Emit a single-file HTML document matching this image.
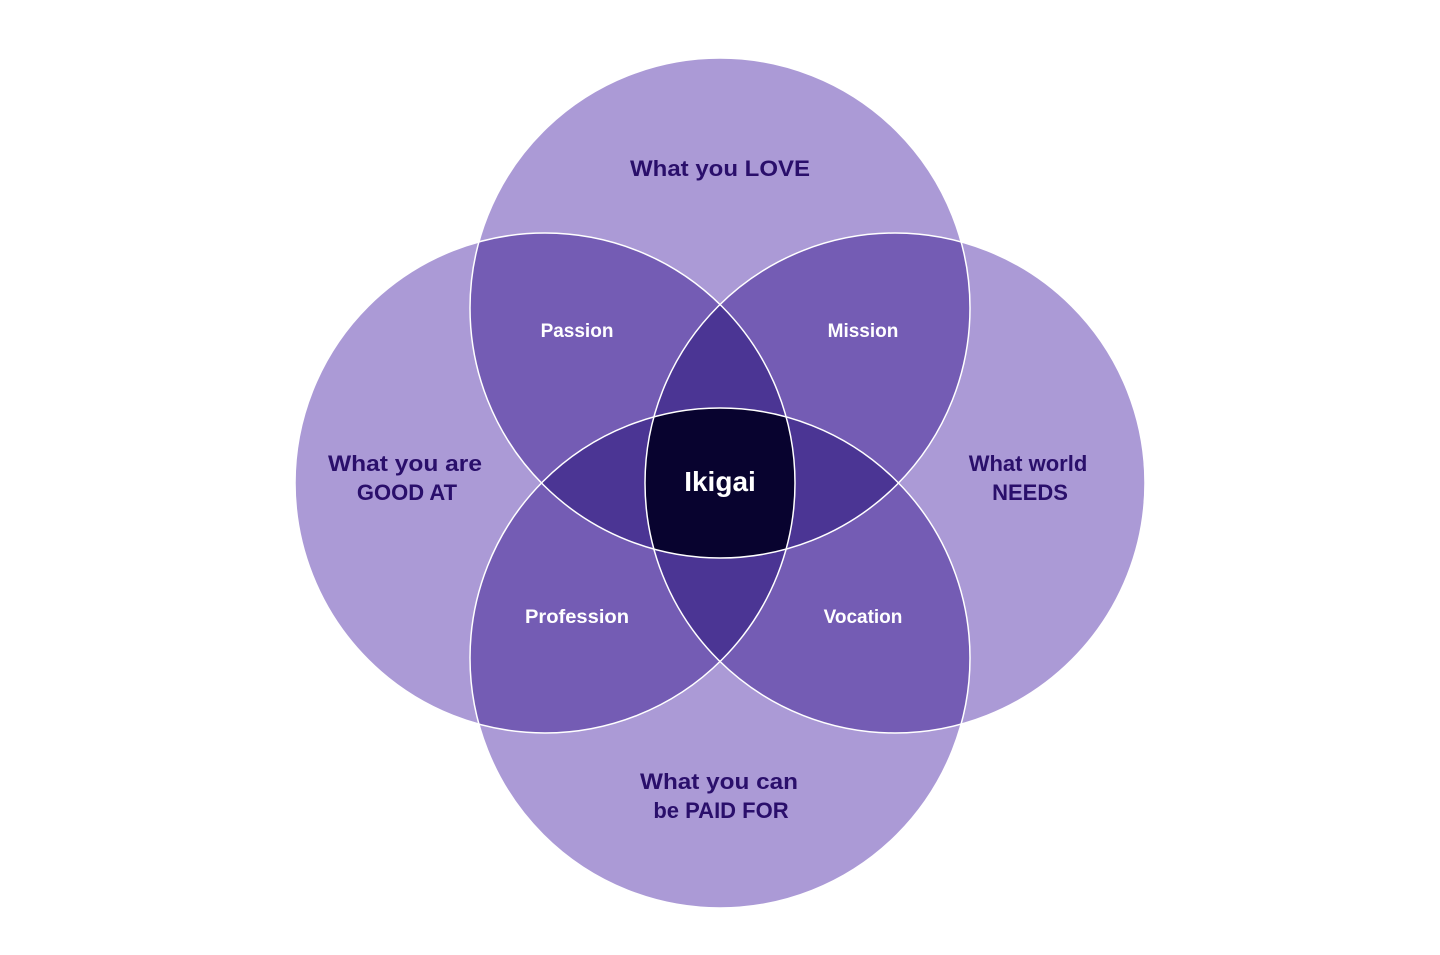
<!DOCTYPE html>
<html><head><meta charset="utf-8"><style>
html,body{margin:0;padding:0;background:#fff;}
svg{display:block}
text{font-family:"Liberation Sans",Arial,sans-serif;font-weight:bold;text-anchor:middle}
</style></head><body>
<svg width="1440" height="955" viewBox="0 0 1440 955" xmlns="http://www.w3.org/2000/svg">
<defs>
<clipPath id="cT"><circle cx="720" cy="308" r="250"/></clipPath>
<clipPath id="cB"><circle cx="720" cy="658" r="250"/></clipPath>
<clipPath id="cL"><circle cx="545" cy="483" r="250"/></clipPath>
<clipPath id="cR"><circle cx="895" cy="483" r="250"/></clipPath>
</defs>
<g fill="#ab9ad6">
<circle cx="720" cy="308" r="250"/><circle cx="720" cy="658" r="250"/>
<circle cx="545" cy="483" r="250"/><circle cx="895" cy="483" r="250"/>
</g>
<g fill="#745cb4">
<g clip-path="url(#cT)"><circle cx="545" cy="483" r="250"/><circle cx="895" cy="483" r="250"/><circle cx="720" cy="658" r="250"/></g>
<g clip-path="url(#cB)"><circle cx="545" cy="483" r="250"/><circle cx="895" cy="483" r="250"/></g>
<g clip-path="url(#cL)"><circle cx="895" cy="483" r="250"/></g>
</g>
<g fill="#4b3594">
<g clip-path="url(#cT)"><g clip-path="url(#cB)"><circle cx="545" cy="483" r="250"/><circle cx="895" cy="483" r="250"/></g></g>
<g clip-path="url(#cL)"><g clip-path="url(#cR)"><circle cx="720" cy="308" r="250"/><circle cx="720" cy="658" r="250"/></g></g>
</g>
<g clip-path="url(#cT)"><g clip-path="url(#cB)"><g clip-path="url(#cL)"><circle cx="895" cy="483" r="250" fill="#08032f"/></g></g></g>
<g fill="none" stroke="#fff" stroke-width="1.5">
<circle cx="720" cy="308" r="250"/><circle cx="720" cy="658" r="250"/>
<circle cx="545" cy="483" r="250"/><circle cx="895" cy="483" r="250"/>
</g>
<g fill="#2a0f6b" font-size="22">
<text x="720" y="176" textLength="180" lengthAdjust="spacingAndGlyphs">What you LOVE</text>
<text x="405" y="471" textLength="154" lengthAdjust="spacingAndGlyphs">What you are</text>
<text x="407" y="500">GOOD AT</text>
<text x="1028" y="471">What world</text>
<text x="1030" y="500">NEEDS</text>
<text x="719" y="789" textLength="158" lengthAdjust="spacingAndGlyphs">What you can</text>
<text x="721" y="818">be PAID FOR</text>
</g>
<g fill="#fff" font-size="19">
<text x="577" y="337">Passion</text>
<text x="863" y="337">Mission</text>
<text x="577" y="623" textLength="104" lengthAdjust="spacingAndGlyphs">Profession</text>
<text x="863" y="623">Vocation</text>
</g>
<text x="720" y="491" fill="#fff" font-size="28">Ikigai</text>
</svg>
</body></html>
